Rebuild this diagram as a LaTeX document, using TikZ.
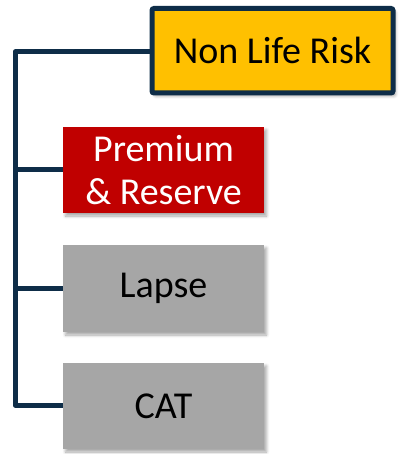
\documentclass[tikz,border=0pt]{standalone}
\usepackage{fontspec}
\setmainfont{Carlito}
\usetikzlibrary{shadows.blur}
\definecolor{navy}{RGB}{14,45,72}
\definecolor{gold}{RGB}{255,192,0}
\definecolor{crimson}{RGB}{192,0,0}
\definecolor{stone}{RGB}{166,166,166}
\tikzset{
  boxshadow/.style={blur shadow={shadow xshift=2.5pt, shadow yshift=-3pt,
      shadow blur radius=3pt, shadow blur steps=6, shadow opacity=35}},
  riskbox/.style={boxshadow, minimum width=201pt, align=center,
      inner sep=0pt, font=\fontsize{38}{43}\selectfont},
  connector/.style={draw=navy, line width=5pt, line join=round, line cap=butt}
}
\begin{document}
\begin{tikzpicture}[x=1pt, y=-1pt]
  \useasboundingbox (0,0) rectangle (398,454);
  % category boxes
  \node[riskbox, fill=gold, draw=navy, line width=5pt, rounded corners=2pt,
        minimum width=241pt, minimum height=84.5pt, text=black]
        (top) at (272.5,50.75) {Non Life Risk};
  \node[riskbox, fill=crimson, minimum height=86pt, text=white]
        (prem) at (163.5,170) {Premium\\\& Reserve};
  \node[riskbox, fill=stone, minimum height=87pt, text=black]
        (lapse) at (163.5,288.5) {Lapse};
  \node[riskbox, fill=stone, minimum height=86pt, text=black]
        (cat) at (163.5,406) {CAT};
  % tree spine and branches
  \coordinate (spineTop) at (15,52);
  \coordinate (spineBot) at (15,405);
  \draw[connector] (top.west |- spineTop) -- (spineTop) -- (spineBot) -- (cat.west |- spineBot);
  \draw[connector] (prem.west -| spineTop) -- (prem.west);
  \draw[connector] (lapse.west -| spineTop) -- (lapse.west);
\end{tikzpicture}
\end{document}
